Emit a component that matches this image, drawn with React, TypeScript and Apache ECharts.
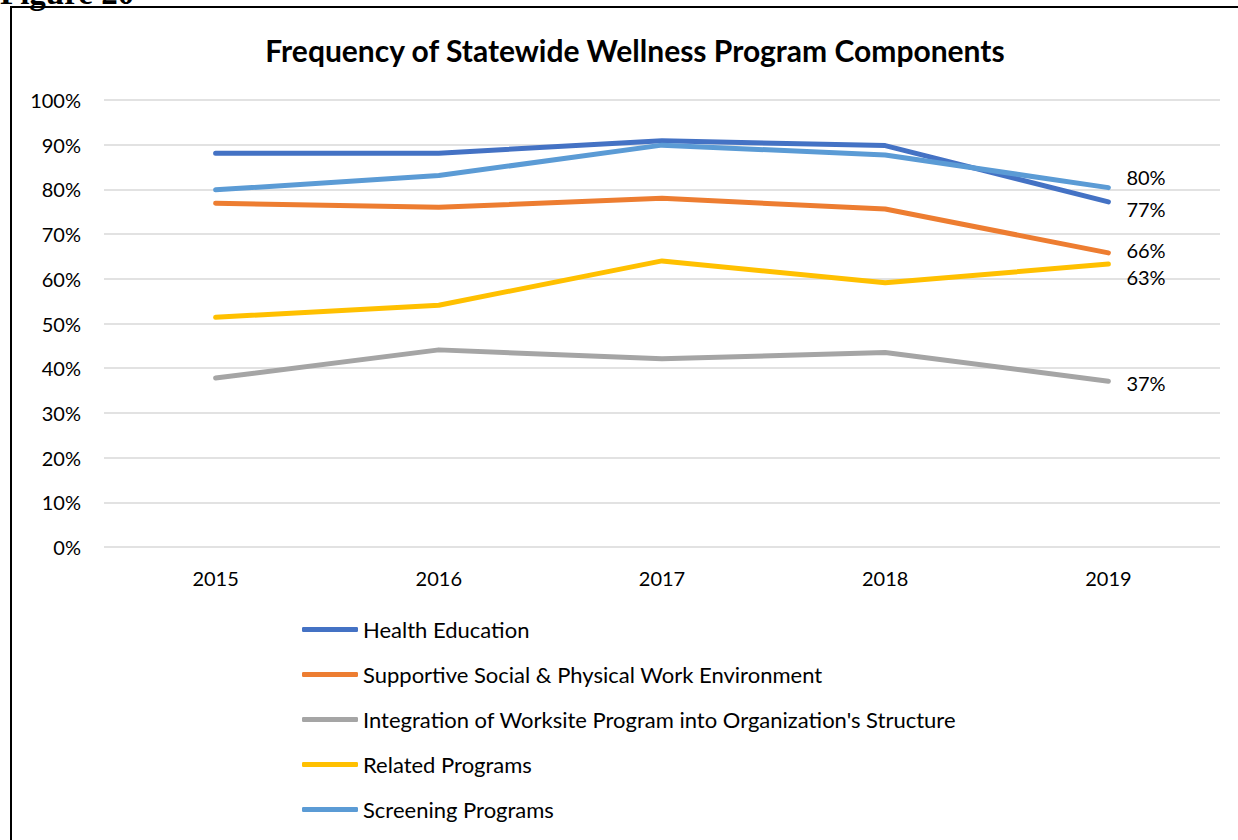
import React, { useEffect, useRef } from "react";
import * as echarts from "echarts";

const years = ["2015", "2016", "2017", "2018", "2019"];
const healthEducation = [88.1, 88.1, 90.9, 89.8, 77.2];
const supportive = [76.9, 76.0, 78.0, 75.6, 65.8];
const integration = [37.8, 44.1, 42.1, 43.5, 37.1];
const related = [51.4, 54.1, 64.0, 59.1, 63.3];
const screening = [79.9, 83.1, 89.9, 87.7, 80.4];

const seriesNames = [
  "Health Education",
  "Supportive Social & Physical Work Environment",
  "Integration of Worksite Program into Organization's Structure",
  "Related Programs",
  "Screening Programs",
];
const seriesValues = [healthEducation, supportive, integration, related, screening];
const colors = ["#4472C4", "#ED7D31", "#A5A5A5", "#FFC000", "#5B9BD5"];
const endLabelOffsetY = [7, -3, 2, 13, -11];

const FONT = "Lato";

export default function App() {
  const ref = useRef<HTMLDivElement>(null);
  useEffect(() => {
    if (!ref.current) return;
    const chart = echarts.init(ref.current, null, { renderer: "svg" });
    const series = seriesNames.map((name, i) => ({
      name,
      type: "line",
      data: seriesValues[i],
      showSymbol: false,
      symbol: "none",
      lineStyle: { width: 5, color: colors[i], cap: "round", join: "round" },
      itemStyle: { color: colors[i] },
      endLabel: {
        show: true,
        distance: 18,
        offset: [0, endLabelOffsetY[i]],
        formatter: (p: any) => Math.round(p.value) + "%",
        fontFamily: FONT,
        fontSize: 20,
        color: "#000",
      },
      z: 2 + i,
    }));
    chart.setOption({
      animation: false,
      backgroundColor: "#fff",
      title: {
        text: "Frequency of Statewide Wellness Program Components",
        left: 630,
        textAlign: "center",
        top: 30,
        textStyle: { fontFamily: FONT, fontWeight: "bold", fontSize: 30, color: "#000" },
      },
      grid: { left: 104, right: 18, top: 100, bottom: 293, containLabel: false },
      xAxis: {
        type: "category",
        data: years,
        boundaryGap: true,
        axisLine: { show: false },
        axisTick: { show: false },
        axisLabel: { fontFamily: FONT, fontSize: 20, color: "#000", margin: 21 },
      },
      yAxis: {
        type: "value",
        min: 0,
        max: 100,
        interval: 10,
        axisLine: { show: false },
        axisTick: { show: false },
        axisLabel: {
          fontFamily: FONT,
          fontSize: 20,
          color: "#000",
          margin: 23,
          formatter: (v: number) => v + "%",
        },
        splitLine: { lineStyle: { color: "#D9D9D9", width: 1.5 } },
      },
      legend: {
        orient: "vertical",
        left: 297,
        top: 613,
        itemWidth: 56,
        itemHeight: 5,
        itemGap: 22,
        icon: "roundRect",
        data: seriesNames.map((n, i) => ({ name: n, itemStyle: { color: colors[i] } })),
        textStyle: { fontFamily: FONT, fontSize: 22, color: "#000", lineHeight: 23 },
      },
      graphic: [
        {
          type: "rect",
          shape: { x: 11, y: 7, width: 1300, height: 900 },
          style: { fill: "none", stroke: "#000", lineWidth: 2 },
          z: 100,
        },
        {
          type: "text",
          x: 0,
          y: 9,
          style: {
            text: "Figure 20",
            font: "bold 33px 'Liberation Serif'",
            fill: "#000",
            verticalAlign: "bottom",
          },
          z: 99,
        },
      ],
      series,
    });
    return () => chart.dispose();
  }, []);
  return (
    <div
      ref={ref}
      style={{ position: "absolute", left: 0, top: 0, width: 1238, height: 840 }}
    />
  );
}
